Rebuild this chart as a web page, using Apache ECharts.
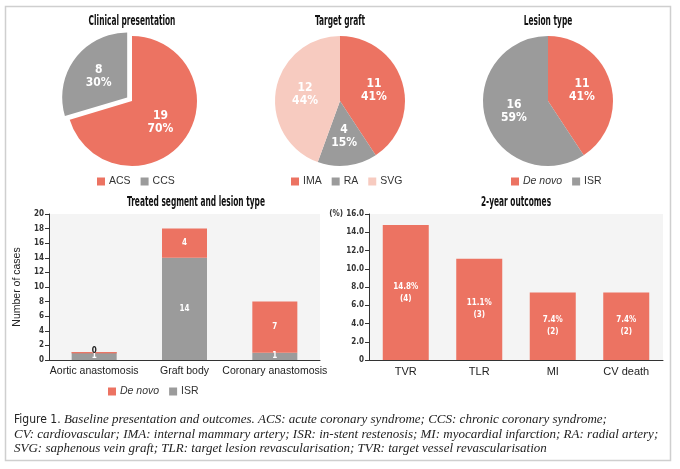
<!DOCTYPE html>
<html>
<head>
<meta charset="utf-8">
<script src="https://cdn.jsdelivr.net/npm/echarts@6/dist/echarts.min.js"></script>
<style>html,body{margin:0;padding:0;background:#fff}#c{width:680px;height:469px}</style>
</head>
<body>
<div id="c"></div>
<script>
// ---- data ----
const clinicalNames = ['ACS', 'CCS'];
const clinicalValues = [19, 8];
const graftNames = ['IMA', 'RA', 'SVG'];
const graftValues = [11, 4, 12];
const lesionNames = ['De novo', 'ISR'];
const lesionValues = [11, 16];
const segmentCategories = ['Aortic anastomosis', 'Graft body', 'Coronary anastomosis'];
const segmentDeNovo = [0, 4, 7];
const segmentISR = [1, 14, 1];
const outcomeCategories = ['TVR', 'TLR', 'MI', 'CV death'];
const outcomePercent = [14.8, 11.1, 7.4, 7.4];
const outcomeCounts = [4, 3, 2, 2];
const captionLines = [
  ['Figure 1.', 'Baseline presentation and outcomes. ACS: acute coronary syndrome; CCS: chronic coronary syndrome;'],
  ['', 'CV: cardiovascular; IMA: internal mammary artery; ISR: in-stent restenosis; MI: myocardial infarction; RA: radial artery;'],
  ['', 'SVG: saphenous vein graft; TLR: target lesion revascularisation; TVR: target vessel revascularisation']
];

// ---- style ----
const RED = '#EC7362', GRAY = '#9B9B9B', PINK = '#F7CBC0';
const COND = '"DejaVu Sans Condensed", "Liberation Sans", sans-serif';
const SANS = '"Liberation Sans", Arial, sans-serif';
const SERIF = '"Liberation Serif", "DejaVu Serif", serif';

const chart = echarts.init(document.getElementById('c'), null, {renderer: 'canvas'});

function pieSeries(names, values, colors, cx, selectedName) {
  return {
    type: 'pie',
    center: [cx, 101],
    radius: [0, 65],
    startAngle: 90,
    selectedMode: selectedName ? 'single' : false,
    selectedOffset: 6,
    percentPrecision: 0,
    silent: true,
    label: {
      show: true, position: 'inner', formatter: '{c}\n{d}%',
      color: '#fff', fontFamily: COND, fontWeight: 'bold', fontSize: 12, lineHeight: 13
    },
    labelLine: {show: false},
    emphasis: {disabled: true},
    data: names.map((n, i) => ({
      name: n, value: values[i], itemStyle: {color: colors[i]},
      selected: n === selectedName
    }))
  };
}

function titleText(t, x, y) {
  return {
    type: 'text', x: x, y: y, scaleX: 0.57, silent: true,
    style: {text: t, align: 'center', verticalAlign: 'middle', fill: '#111',
      fontFamily: COND, fontWeight: 'bold', fontSize: 14.5}
  };
}

const legendCommon = {
  icon: 'rect', itemWidth: 8, itemHeight: 8, itemGap: 10, selectedMode: false, padding: 0,
  textStyle: {fontFamily: SANS, fontSize: 10.5, color: '#333', padding: [0, 0, 0, -1],
    rich: {i: {fontFamily: SANS, fontSize: 10.5, fontStyle: 'italic', color: '#333'}}},
  formatter: n => n === 'De novo' ? '{i|De novo}' : n
};

const axisLineStyle = {lineStyle: {color: '#333', width: 1}};

const graphics = [
  {type: 'rect', silent: true, z: -10,
    shape: {x: 5.5, y: 6.5, width: 665, height: 454},
    style: {fill: 'none', stroke: '#cfcfcf', lineWidth: 1.5}},
  titleText('Clinical presentation', 132, 21),
  titleText('Target graft', 340, 21),
  titleText('Lesion type', 548, 21),
  titleText('Treated segment and lesion type', 196, 202),
  titleText('2-year outcomes', 516, 202),
  {type: 'text', x: 343, y: 214, silent: true,
    style: {text: '(%)', align: 'right', verticalAlign: 'middle', fill: '#333',
      fontFamily: COND, fontWeight: 'bold', fontSize: 8}}
];
captionLines.forEach((ln, i) => {
  graphics.push({
    type: 'text', x: 14, y: 420 + i * 14.2, silent: true,
    style: {
      text: (ln[0] ? '{s|' + ln[0] + '} ' : '') + '{i|' + ln[1] + '}',
      verticalAlign: 'middle',
      rich: {
        s: {fontFamily: COND, fontSize: 12, fill: '#222'},
        i: {fontFamily: SERIF, fontStyle: 'italic', fontSize: 13, fill: '#222'}
      }
    }
  });
});

const option = {
  animation: false,
  backgroundColor: '#fff',
  graphic: graphics,
  legend: [
    Object.assign({data: clinicalNames, left: 97, top: 176}, legendCommon),
    Object.assign({data: graftNames, left: 291, top: 176}, legendCommon),
    Object.assign({data: lesionNames, left: 511, top: 176}, legendCommon),
    Object.assign({data: ['De novo', 'ISR'], left: 108, top: 386}, legendCommon)
  ],
  grid: [
    {left: 49, right: 360, top: 214, bottom: 109, show: true, backgroundColor: '#f4f4f4', borderWidth: 0},
    {left: 369, right: 17, top: 214, bottom: 109, show: true, backgroundColor: '#f4f4f4', borderWidth: 0}
  ],
  xAxis: [
    {type: 'category', gridIndex: 0, data: segmentCategories,
      axisLine: axisLineStyle, axisTick: {alignWithLabel: true, length: 4, lineStyle: {color: '#333'}},
      axisLabel: {color: '#222', fontFamily: SANS, fontSize: 10.5, margin: 6, interval: 0}},
    {type: 'category', gridIndex: 1, data: outcomeCategories,
      axisLine: axisLineStyle, axisTick: {show: false},
      axisLabel: {color: '#222', fontFamily: SANS, fontSize: 11, margin: 6, interval: 0}}
  ],
  yAxis: [
    {type: 'value', gridIndex: 0, min: 0, max: 20, interval: 2,
      name: 'Number of cases', nameLocation: 'middle', nameGap: 26,
      nameTextStyle: {color: '#222', fontFamily: SANS, fontSize: 10.5},
      axisLine: {show: true, lineStyle: {color: '#333'}},
      axisTick: {show: true, length: 4, lineStyle: {color: '#333'}},
      splitLine: {show: false},
      axisLabel: {color: '#333', fontFamily: COND, fontSize: 8, fontWeight: 'bold', margin: 5}},
    {type: 'value', gridIndex: 1, min: 0, max: 16, interval: 2,
      axisLine: {show: true, lineStyle: {color: '#333'}},
      axisTick: {show: true, length: 4, lineStyle: {color: '#333'}},
      splitLine: {show: false},
      axisLabel: {color: '#333', fontFamily: COND, fontSize: 8, fontWeight: 'bold', margin: 5,
        formatter: v => v === 0 ? '0' : v.toFixed(1)}}
  ],
  series: [
    pieSeries(clinicalNames, clinicalValues, [RED, GRAY], 132, 'CCS'),
    pieSeries(graftNames, graftValues, [RED, GRAY, PINK], 340, null),
    pieSeries(lesionNames, lesionValues, [RED, GRAY], 548, null),
    {
      type: 'bar', name: 'ISR', stack: 'seg', xAxisIndex: 0, yAxisIndex: 0,
      barWidth: 45, itemStyle: {color: GRAY}, silent: true,
      label: {show: true, position: 'inside', color: '#fff', fontFamily: COND, fontSize: 8, fontWeight: 'bold'},
      data: segmentISR
    },
    {
      type: 'bar', name: 'De novo', stack: 'seg', xAxisIndex: 0, yAxisIndex: 0,
      barWidth: 45, itemStyle: {color: RED}, silent: true,
      label: {show: true, position: 'inside', color: '#fff', fontFamily: COND, fontSize: 8, fontWeight: 'bold'},
      data: segmentDeNovo.map(v => v === 0
        ? {value: v, itemStyle: {borderColor: RED, borderWidth: 1}, label: {color: '#222', position: 'top', distance: -3}}
        : v)
    },
    {
      type: 'bar', name: 'Outcome', xAxisIndex: 1, yAxisIndex: 1,
      barWidth: 46, itemStyle: {color: RED}, silent: true,
      label: {show: true, position: 'inside', color: '#fff', fontFamily: COND, fontSize: 8, fontWeight: 'bold',
        lineHeight: 12,
        formatter: p => p.value.toFixed(1) + '%\n(' + outcomeCounts[p.dataIndex] + ')'},
      data: outcomePercent
    }
  ]
};
chart.setOption(option);
</script>
</body>
</html>
